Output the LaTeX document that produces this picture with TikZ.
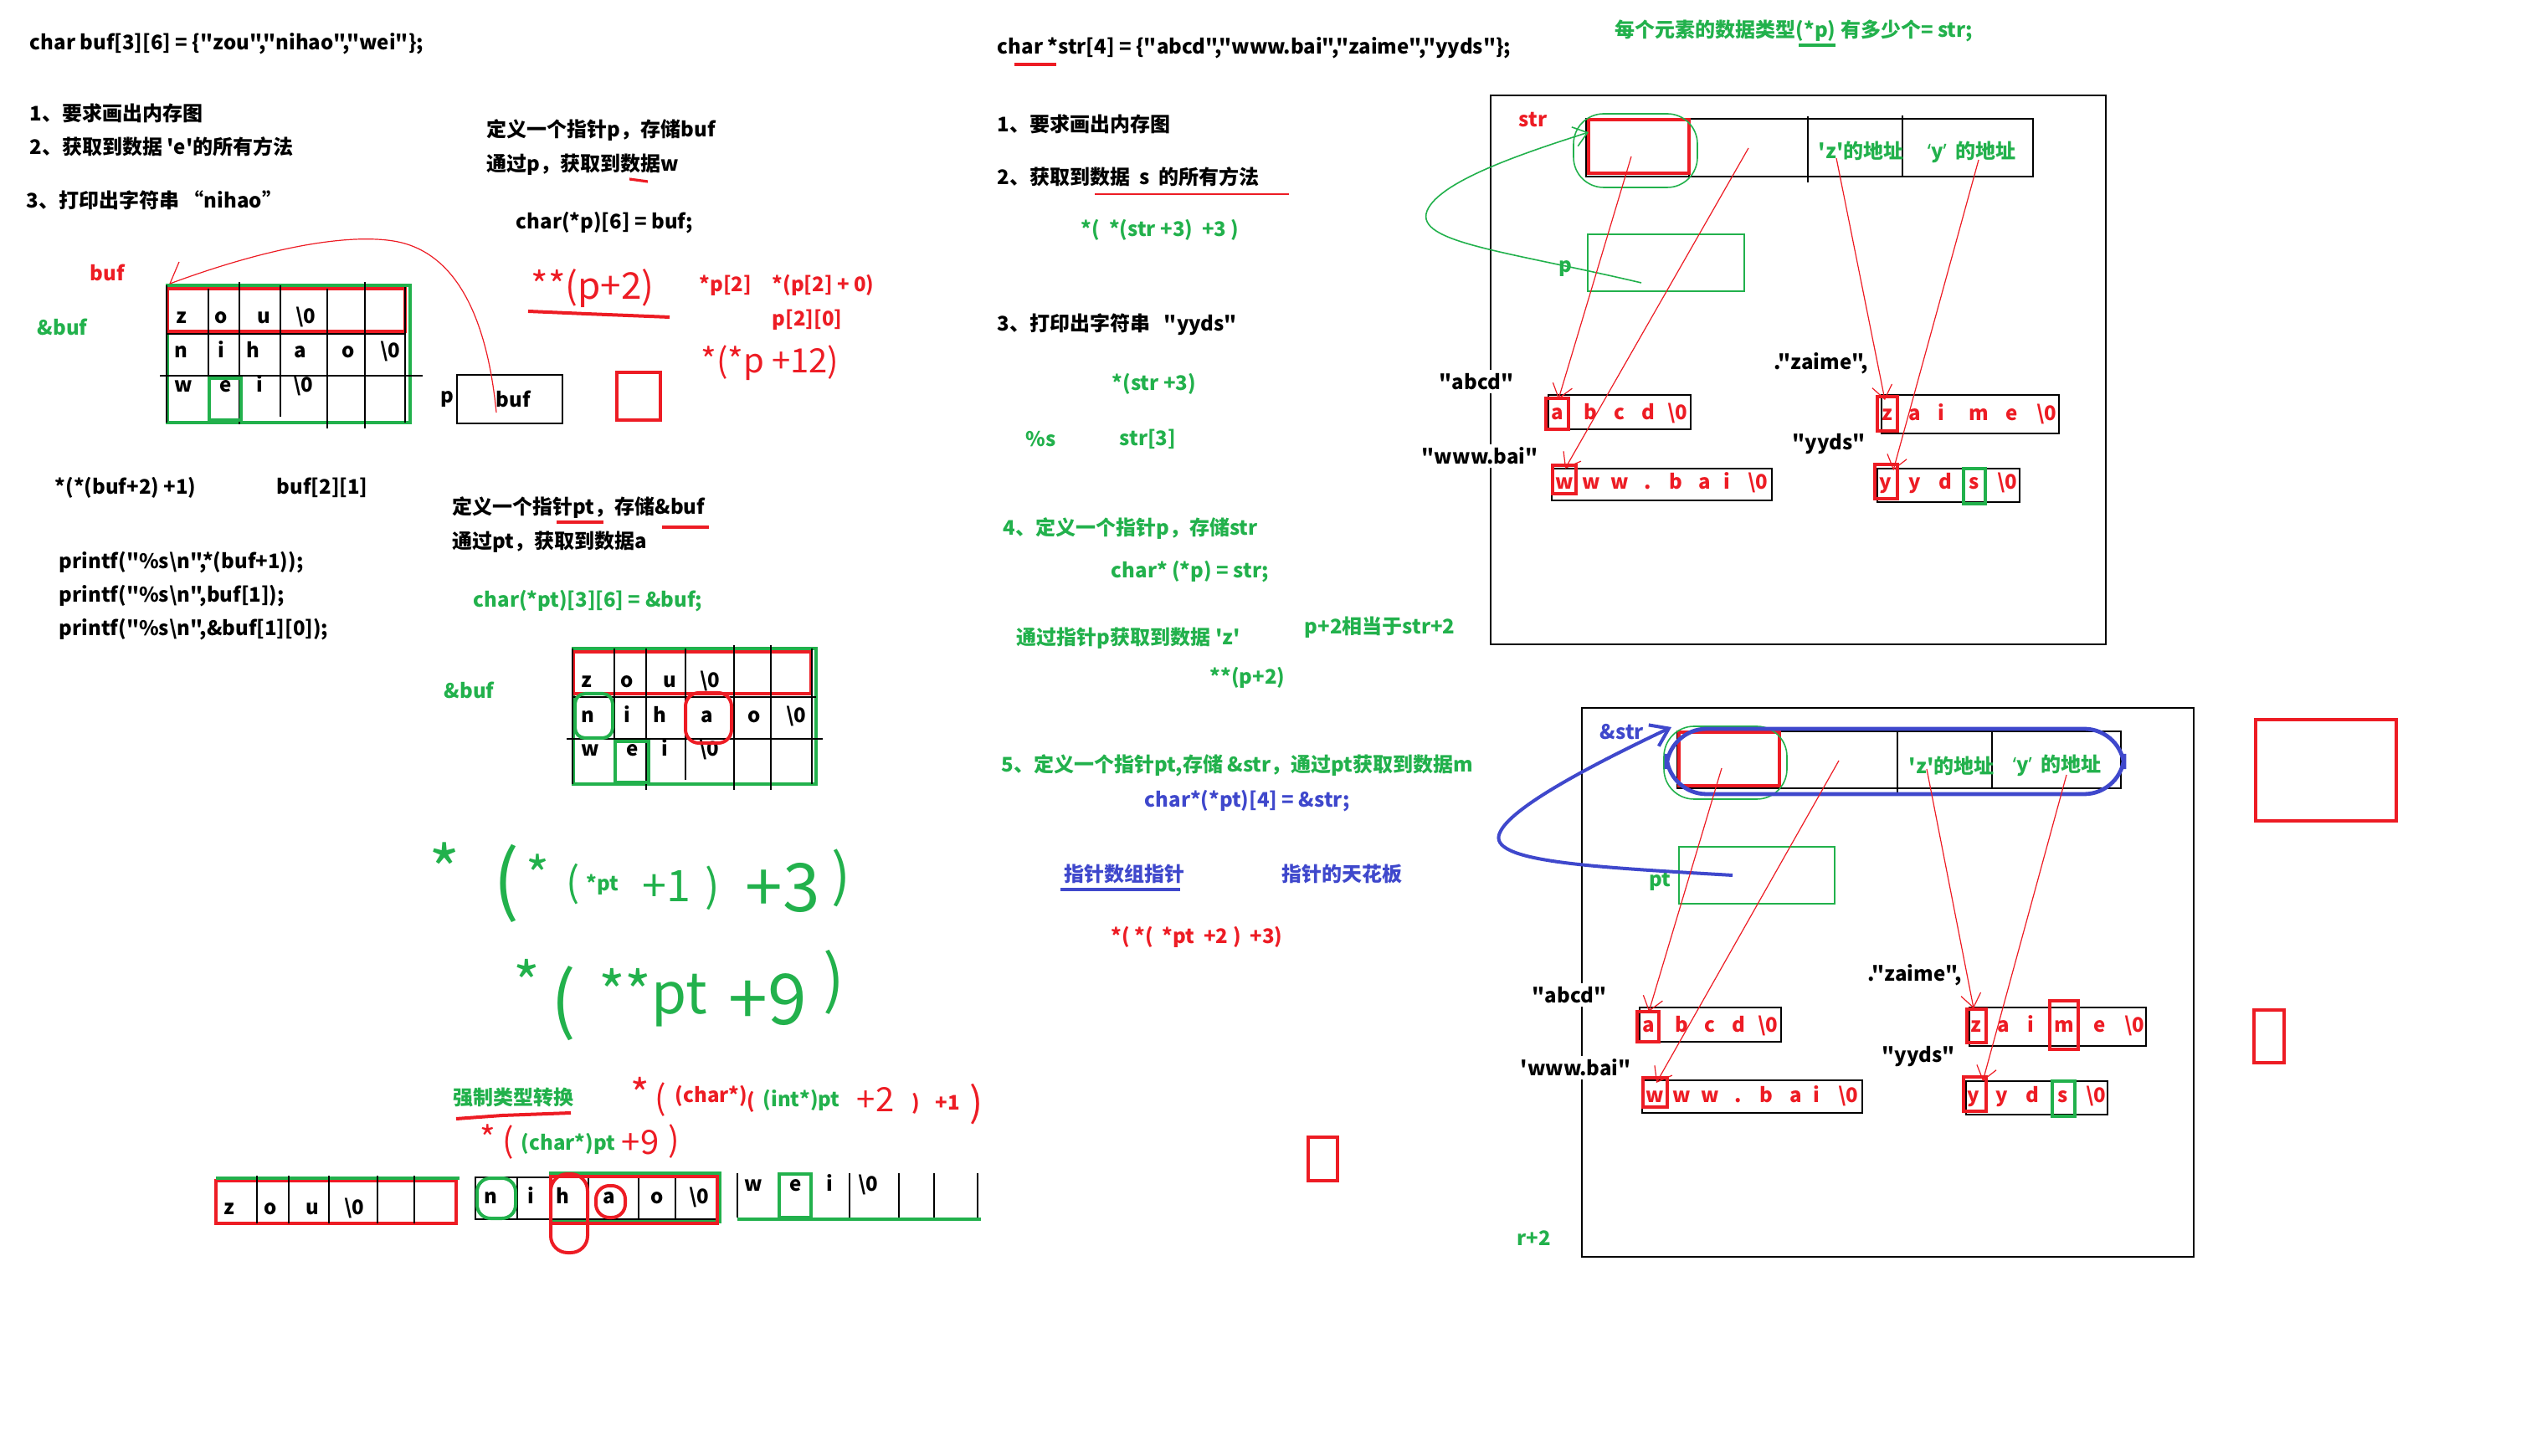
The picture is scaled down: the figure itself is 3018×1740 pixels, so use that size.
\documentclass[tikz,border=0pt]{standalone}
\usepackage{fontspec}
\setmainfont{Noto Sans CJK SC}[Ligatures=TeXOff]
\newfontfamily\latq{Noto Sans}
\usetikzlibrary{arrows.meta}
\definecolor{pr}{RGB}{237,28,36}
\definecolor{pg}{RGB}{34,177,76}
\definecolor{pb}{RGB}{63,72,204}
\newcommand\fzs{\fontsize{6}{7.2}\selectfont\bfseries}
\newcommand\hfs[1]{\fontsize{#1}{#1}\selectfont}
\newcommand\bsl{\textbackslash}
\begin{document}
\begin{tikzpicture}[x=0.25pt,y=-0.25pt,
  tx/.style={anchor=west,inner sep=0pt,font=\fzs},
  cc/.style={anchor=center,inner sep=0pt,font=\fzs,text height=4.6pt,text depth=1.3pt},
  hand/.style={inner sep=0pt,anchor=center},
  bl/.style={draw=black,line width=0.3pt},
  rthick/.style={draw=pr,line width=1pt},
  gthick/.style={draw=pg,line width=1pt},
  rarr/.style={draw=pr,line width=0.3pt,-{Straight Barb[length=4pt,width=6pt]}},
]
\useasboundingbox[fill=white] (0,0) rectangle (3018,1740);

% ===== left column texts =====
\node[tx] (a1) at (35,52) {char buf[3][6] = \{"zou","nihao","wei"\};};
\node[tx] (a2) at (35,135) {1、要求画出内存图};
\node[tx] (a3) at (35,175) {2、获取到数据 'e'的所有方法};
\node[tx] (a4) at (31,239) {3、打印出字符串 “nihao”};
\node[tx] (a5) at (581,156) {定义一个指针p，存储buf};
\node[tx] (a6) at (581,197) {通过p，获取到数据w};
\coordinate (u1a) at (752,214); \coordinate (u1b) at (774,217);
\draw[pr,line width=0.8pt] (u1a) -- (u1b);
\node[tx] (a7) at (616,266) {char(*p)[6] = buf;};
\node[tx,pr] (a8) at (107,326) {buf};
\node[tx,pg] (a9) at (44,391) {\&buf};

% ===== grid buf =====
\draw[gthick] (200,341) rectangle (490,505);
\draw[rthick] (200,345) rectangle (484,396);
\draw[bl] (200,399) -- (484,399);
\draw[bl] (191,449) -- (505,449);
\draw[bl] (199,341) -- (199,505);
\foreach \x/\a/\b in {249/345/503, 286/337/507, 335/341/498, 391/345/512, 436/337/512, 484/343/505} \draw[bl] (\x,\a) -- (\x,\b);
\foreach \x/\c [count=\i] in {217/z,264/o,315/u,365/{\bsl 0}} \node[cc] (gaa\i) at (\x,380) {\c};
\foreach \x/\c [count=\i] in {216/n,264/i,302/h,359/a,416/o,466/{\bsl 0}} \node[cc] (gab\i) at (\x,421) {\c};
\foreach \x/\c [count=\i] in {219/w,270/e,310/i,362/{\bsl 0}} \node[cc] (gac\i) at (\x,462) {\c};
\draw[gthick] (250,452) rectangle (288,502);

% pointer p -> buf
\node[tx] (pl) at (526,477) {p};
\node[bl,minimum width=126*0.25pt,minimum height=58*0.25pt,inner sep=0pt] (pbox) at (609,477) {};
\node[tx] (pbuf) at (592,477) {buf};
\coordinate (cA) at (203,339); \coordinate (cB) at (214,313); \coordinate (cC) at (593,493);
\draw[pr,line width=0.3pt] (cA) -- (cB);
\draw[pr,line width=0.3pt] (cA) .. controls (330,292) and (420,280) .. (470,288) .. controls (545,300) and (582,380) .. (cC);
\node[rthick,minimum width=52*0.25pt,minimum height=57*0.25pt,inner sep=0pt] (rsq1) at (763,474) {};

% handwritten red
\node[hand,pr,font=\hfs{11}] (h1) at (708,345) {**(p+2)};
\coordinate (u2a) at (631,372); \coordinate (u2b) at (700,375); \coordinate (u2c) at (800,379);
\draw[pr,line width=1pt] (u2a) -- (u2b) -- (u2c);
\node[tx,pr] (h2) at (835,341) {*p[2]};
\node[tx,pr] (h3) at (922,341) {*(p[2] + 0)};
\node[tx,pr] (h4) at (922,382) {p[2][0]};
\node[hand,pr,font=\hfs{10}] (h5) at (920,434) {*(*p +12)};

% ===== left lower texts =====
\node[tx] (b1) at (65,583) {*(*(buf+2) +1)};
\node[tx] (b2) at (330,583) {buf[2][1]};
\node[tx] (b3) at (540,607) {定义一个指针pt，存储\&buf};
\coordinate (u3a) at (665,624); \coordinate (u3b) at (721,624);
\coordinate (u3c) at (791,630); \coordinate (u3d) at (847,630);
\draw[pr,line width=1pt] (u3a) -- (u3b);
\draw[pr,line width=1pt] (u3c) -- (u3d);
\node[tx] (b4) at (540,648) {通过pt，获取到数据a};
\node[tx] (b5) at (70,672) {printf("\%s\bsl n",*(buf+1));};
\node[tx] (b6) at (70,712) {printf("\%s\bsl n",buf[1]);};
\node[tx] (b7) at (70,752) {printf("\%s\bsl n",\&buf[1][0]);};
\node[tx,pg] (b8) at (565,718) {char(*pt)[3][6] = \&buf;};

% ===== grid &buf =====
\node[tx,pg] (b9) at (530,825) {\&buf};
\draw[gthick] (685,775) rectangle (975,937);
\draw[rthick] (685,779) rectangle (969,829);
\draw[bl] (685,833) -- (975,833);
\draw[bl] (677,883) -- (983,883);
\draw[bl] (684,775) -- (684,937);
\foreach \x/\a/\b in {734/775/937, 772/775/944, 819/775/932, 877/771/944, 921/771/944, 970/775/937} \draw[bl] (\x,\a) -- (\x,\b);
\foreach \x/\c [count=\i] in {701/z,749/o,800/u,848/{\bsl 0}} \node[cc] (gba\i) at (\x,815) {\c};
\foreach \x/\c [count=\i] in {702/n,749/i,788/h,845/a,901/o,951/{\bsl 0}} \node[cc] (gbb\i) at (\x,857) {\c};
\foreach \x/\c [count=\i] in {705/w,756/e,794/i,847/{\bsl 0}} \node[cc] (gbc\i) at (\x,897) {\c};
\draw[gthick,rounded corners=3] (687,829) rectangle (732,882);
\draw[rthick,rounded corners=4] (819,828) rectangle (874,888);
\draw[gthick] (735,886) rectangle (775,935);

% ===== handwritten green expressions =====
\node[hand,pg,anchor=north,font=\hfs{20}] (e1) at (531,1006) {*};
\node[hand,pg,font=\hfs{23}] (e2) at (605,1056) {(};
\node[hand,pg,anchor=north,font=\hfs{15}] (e3) at (643,1020) {*};
\node[hand,pg,font=\hfs{12}] (e4) at (685,1057) {(};
\node[cc,pg] (e5) at (720,1058) {*pt};
\node[hand,pg,font=\hfs{13}] (e6) at (796,1059) {+1};
\node[hand,pg,font=\hfs{13}] (e7) at (851,1061) {)};
\node[hand,pg,font=\hfs{20}] (e8) at (935,1061) {+3};
\node[hand,pg,font=\hfs{17}] (e9) at (1005,1049) {)};
\node[hand,pg,anchor=north,font=\hfs{17}] (f1) at (629,1146) {*};
\node[hand,pg,font=\hfs{22}] (f2) at (673,1199) {(};
\node[hand,pg,font=\hfs{17}] (f3) at (780,1192) {**pt};
\node[hand,pg,font=\hfs{21}] (f4) at (917,1195) {+9};
\node[hand,pg,font=\hfs{19}] (f5) at (996,1174) {)};

% ===== cast section =====
\node[tx,pg] (c1) at (541,1312) {强制类型转换};
\coordinate (u4a) at (545,1337); \coordinate (u4b) at (600,1333); \coordinate (u4c) at (682,1330);
\draw[pr,line width=1pt] (u4a) -- (u4b) -- (u4c);
\node[hand,pr,anchor=north,font=\hfs{12}] (c2) at (765,1286) {*};
\node[hand,pr,font=\hfs{10}] (c3) at (789,1314) {(};
\node[tx,pr] (c4) at (806,1310) {(char*)};
\node[cc,pr] (c5) at (897,1318) {(};
\node[tx,pg] (c6) at (911,1315) {(int*)pt};
\node[hand,pr,font=\hfs{10}] (c7) at (1046,1314) {+2};
\node[cc,pr] (c8) at (1094,1320) {)};
\node[tx,pr] (c9) at (1117,1318) {+1};
\node[hand,pr,font=\hfs{12}] (c10) at (1167,1320) {)};
\node[hand,pr,anchor=north,font=\hfs{10}] (d1) at (583,1343) {*};
\node[hand,pr,font=\hfs{10}] (d2) at (607,1365) {(};
\node[tx,pg] (d3) at (622,1367) {(char*)pt};
\node[hand,pr,font=\hfs{10}] (d4) at (765,1365) {+9};
\node[hand,pr,font=\hfs{10}] (d5) at (805,1364) {)};

% ===== bottom rows =====
% row 1
\draw[rthick] (258,1411) rectangle (545,1462);
\draw[gthick] (258,1408) -- (549,1408);
\foreach \x in {307,345,393,451,495} \draw[bl] (\x,1405) -- (\x,1462);
\foreach \x/\c [count=\i] in {274/z,323/o,373/u,423/{\bsl 0}} \node[cc] (ra\i) at (\x,1445) {\c};
% row 2
\draw[bl] (568,1407) rectangle (857,1457);
\foreach \x in {618,658,703,763,807} \draw[bl] (\x,1407) -- (\x,1457);
\draw[gthick,rounded corners=4] (570,1408) rectangle (616,1456);
\draw[gthick] (658,1402) rectangle (860,1460);
\draw[rthick] (658,1406) rectangle (857,1462);
\draw[rthick,rounded corners=5] (658,1403) rectangle (702,1497);
\draw[rthick,rounded corners=4] (712,1417) rectangle (747,1455);
\foreach \x/\c [count=\i] in {586/n,634/i,672/h,728/a,785/o,835/{\bsl 0}} \node[cc] (rb\i) at (\x,1432) {\c};
% row 3
\foreach \x in {881,931,969,1015,1074,1116,1168} \draw[bl] (\x,1402) -- (\x,1455);
\draw[gthick] (881,1457) -- (1172,1457);
\draw[gthick] (931,1403) rectangle (969,1455);
\foreach \x/\c [count=\i] in {900/w,951/e,991/i,1037/{\bsl 0}} \node[cc] (rc\i) at (\x,1417) {\c};

% ===== middle column =====
\node[tx] (m1) at (1191,57) {char *str[4] = \{"abcd","www.bai","zaime","yyds"\};};
\coordinate (u5a) at (1212,77); \coordinate (u5b) at (1262,77);
\draw[pr,line width=1pt] (u5a) -- (u5b);
\node[tx,pg] (m2) at (1929,37) {每个元素的数据类型(*p) 有多少个= str;};
\coordinate (u6a) at (2149,54); \coordinate (u6b) at (2193,54);
\draw[pg,line width=1pt] (u6a) -- (u6b);
\node[tx] (m3) at (1191,148) {1、要求画出内存图};
\node[tx] (m4) at (1191,211) {2、获取到数据 \ s \ 的所有方法};
\coordinate (u7a) at (1308,232); \coordinate (u7b) at (1540,232);
\draw[pr,line width=0.4pt] (u7a) -- (u7b);
\node[tx,pg] (m5) at (1291,275) {*( \ *(str +3) \ +3 )};
\node[tx] (m6) at (1191,388) {3、打印出字符串 \ \ "yyds"};
\node[tx,pg] (m7) at (1328,459) {*(str +3)};
\node[tx,pg] (m8) at (1225,525) {\%s};
\node[tx,pg] (m9) at (1337,525) {str[3]};
\node[tx,pg] (m10) at (1198,632) {4、定义一个指针p，存储str};
\node[tx,pg] (m11) at (1327,683) {char* (*p) = str;};
\node[tx,pg] (m12) at (1214,763) {通过指针p获取到数据 'z'};
\node[tx,pg] (m13) at (1558,750) {p+2相当于str+2};
\node[tx,pg] (m14) at (1445,810) {**(p+2)};
\node[tx,pg] (m15) at (1196,915) {5、定义一个指针pt,存储 \&str，通过pt获取到数据m};
\node[tx,pb] (m16) at (1367,957) {char*(*pt)[4] = \&str;};
\node[tx,pb] (m17) at (1271,1044) {指针数组指针};
\coordinate (u8a) at (1267,1063); \coordinate (u8b) at (1410,1063);
\draw[pb,line width=1pt] (u8a) -- (u8b);
\node[tx,pb] (m18) at (1531,1044) {指针的天花板};
\node[tx,pr] (m19) at (1327,1120) {*( *( \ *pt \ +2 ) \ +3)};
\node[rthick,minimum width=35*0.25pt,minimum height=52*0.25pt,inner sep=0pt] (rsq2) at (1580,1385) {};

% ===== top-right memory box =====
\draw[bl] (1781,114) rectangle (2516,770);
\node[tx,pr] (s1) at (1814,143) {str};
\draw[bl] (1895,142) rectangle (2429,211);
\draw[bl] (2018,142) -- (2018,211);
\draw[bl] (2160,139) -- (2160,218);
\draw[bl] (2273,138) -- (2273,211);
\draw[rthick] (1898,143) rectangle (2018,207);
\draw[pg,line width=0.4pt,rounded corners=9] (1880,136) rectangle (2028,224);
\node[tx,pg] (s2) at (2172,180) {'z'的地址};
\node[tx,pg] (s3) at (2302,182) {{\latq ‘}y{\latq ’}\ \ 的地址};
\draw[pg,line width=0.4pt] (1897,280) rectangle (2084,348);
\node[tx,pg] (s4) at (1862,321) {p};
\coordinate (gp0) at (1961,338); \coordinate (gp1) at (1898,158);
\draw[pg,line width=0.4pt,-{Straight Barb[length=4pt,width=6pt]}] (gp0) .. controls (1800,300) and (1690,290) .. (1705,252) .. controls (1720,215) and (1830,180) .. (gp1);
% strings
\node[tx,fill=white,inner sep=1pt] (l1) at (1715,456) {"abcd"};
\node[tx,fill=white,inner sep=1pt] (l2) at (1694,545) {"www.bai"};
\node[tx] (l3) at (2119,434) {."zaime",};
\node[tx] (l4) at (2141,531) {"yyds"};
\draw[bl] (1850,472) rectangle (2020,513);
\draw[rthick] (1847,476) rectangle (1874,513);
\foreach \x/\c [count=\i] in {1861/a,1900/b,1935/c,1969/d,2004/{\bsl 0}} \node[cc,pr] (sa\i) at (\x,495) {\c};
\draw[bl] (1854,560) rectangle (2117,598);
\draw[rthick] (1855,556) rectangle (1883,590);
\foreach \x/\c [count=\i] in {1869/w,1901/w,1935/w,1969/.,2002/b,2037/a,2063/i,2100/{\bsl 0}} \node[cc,pr] (sb\i) at (\x,578) {\c};
\draw[bl] (2248,472) rectangle (2460,518);
\draw[rthick] (2243,474) rectangle (2267,515);
\foreach \x/\c [count=\i] in {2255/z,2288/a,2319/i,2364/m,2404/e,2445/{\bsl 0}} \node[cc,pr] (sc\i) at (\x,496) {\c};
\draw[bl] (2243,560) rectangle (2413,600);
\draw[rthick] (2240,555) rectangle (2267,596);
\draw[gthick] (2346,560) rectangle (2372,602);
\foreach \x/\c [count=\i] in {2253/y,2288/y,2324/d,2359/s,2398/{\bsl 0}} \node[cc,pr] (sd\i) at (\x,578) {\c};
% pointers
\coordinate (q1) at (1949,187); \coordinate (q1e) at (1862,477);
\coordinate (q2) at (2089,177); \coordinate (q2e) at (1870,560);
\coordinate (q3) at (2194,189); \coordinate (q3e) at (2252,478);
\coordinate (q4) at (2364,191); \coordinate (q4e) at (2262,562);
\draw[rarr] (q1) -- (q1e);
\draw[rarr] (q2) -- (q2e);
\draw[rarr] (q3) -- (q3e);
\draw[rarr] (q4) -- (q4e);

% ===== bottom-right memory box =====
\draw[bl] (1890,846) rectangle (2621,1502);
\node[tx,pb] (t1) at (1911,875) {\&str};
\draw[bl] (2004,874) rectangle (2534,942);
\draw[bl] (2126,874) -- (2126,942);
\draw[bl] (2267,874) -- (2267,950);
\draw[bl] (2380,874) -- (2380,942);
\draw[rthick] (2006,875) rectangle (2126,939);
\draw[pg,line width=0.4pt,rounded corners=9] (1988,868) rectangle (2135,955);
\draw[pb,line width=1.2pt,rounded corners=12] (1991,871) rectangle (2538,949);
\node[tx,pg] (t2) at (2280,915) {'z'的地址};
\node[tx,pg] (t3) at (2404,915) {{\latq ‘}y{\latq ’}\ \ 的地址};
\draw[pg,line width=0.4pt] (2006,1012) rectangle (2192,1080);
\node[tx,pg] (t4) at (1970,1053) {pt};
\coordinate (bp0) at (2070,1046); \coordinate (bp1) at (1997,869);
\draw[pb,line width=1pt,-{Straight Barb[length=5pt,width=7pt]}] (bp0) .. controls (1900,1036) and (1775,1030) .. (1792,995) .. controls (1805,965) and (1900,915) .. (bp1);
\node[tx,fill=white,inner sep=1pt] (k1) at (1826,1189) {"abcd"};
\node[tx,fill=white,inner sep=1pt] (k2) at (1812,1276) {'www.bai"};
\node[tx] (k3) at (2231,1165) {."zaime",};
\node[tx] (k4) at (2248,1263) {"yyds"};
\draw[bl] (1959,1204) rectangle (2128,1245);
\draw[rthick] (1956,1209) rectangle (1982,1245);
\foreach \x/\c [count=\i] in {1970/a,2009/b,2043/c,2077/d,2112/{\bsl 0}} \node[cc,pr] (ka\i) at (\x,1227) {\c};
\draw[bl] (1962,1291) rectangle (2225,1330);
\draw[rthick] (1963,1288) rectangle (1992,1323);
\foreach \x/\c [count=\i] in {1977/w,2009/w,2043/w,2077/.,2110/b,2146/a,2170/i,2208/{\bsl 0}} \node[cc,pr] (kb\i) at (\x,1311) {\c};
\draw[bl] (2353,1204) rectangle (2564,1250);
\draw[rthick] (2350,1206) rectangle (2373,1246);
\draw[rthick] (2449,1196) rectangle (2483,1254);
\foreach \x/\c [count=\i] in {2361/z,2394/a,2426/i,2466/m,2509/e,2550/{\bsl 0}} \node[cc,pr] (kc\i) at (\x,1227) {\c};
\draw[bl] (2349,1292) rectangle (2518,1332);
\draw[rthick] (2346,1287) rectangle (2373,1328);
\draw[gthick] (2452,1292) rectangle (2479,1334);
\foreach \x/\c [count=\i] in {2358/y,2392/y,2428/d,2465/s,2504/{\bsl 0}} \node[cc,pr] (kd\i) at (\x,1311) {\c};
\coordinate (w1) at (2057,918); \coordinate (w1e) at (1970,1209);
\coordinate (w2) at (2197,909); \coordinate (w2e) at (1979,1294);
\coordinate (w3) at (2302,919); \coordinate (w3e) at (2358,1205);
\coordinate (w4) at (2469,926); \coordinate (w4e) at (2369,1292);
\draw[rarr] (w1) -- (w1e);
\draw[rarr] (w2) -- (w2e);
\draw[rarr] (w3) -- (w3e);
\draw[rarr] (w4) -- (w4e);
\node[tx,pg] (t5) at (1812,1480) {r+2};

% right red boxes
\node[rthick,minimum width=168*0.25pt,minimum height=121*0.25pt,inner sep=0pt] (rsq3) at (2779,921) {};
\node[rthick,minimum width=36*0.25pt,minimum height=63*0.25pt,inner sep=0pt] (rsq4) at (2711,1239) {};
\end{tikzpicture}
\end{document}
